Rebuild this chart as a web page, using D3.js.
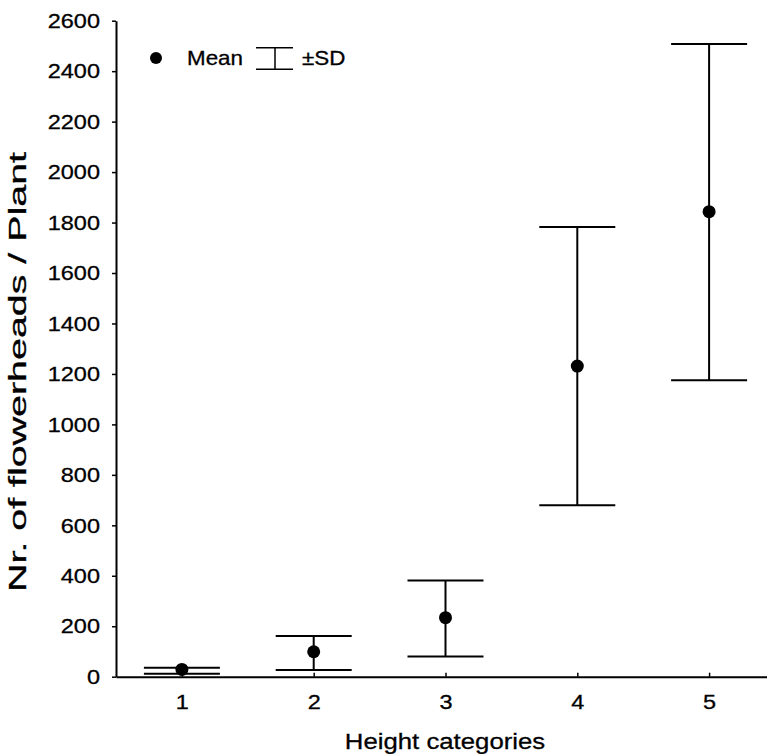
<!DOCTYPE html>
<html>
<head>
<meta charset="utf-8">
<script src="https://cdn.jsdelivr.net/npm/d3@7"></script>
<style>
  html, body { margin: 0; padding: 0; background: #fff; }
  svg text { font-family: "Liberation Sans", Arial, sans-serif; fill: #000; stroke: #000; stroke-width: 0.3px; }
</style>
</head>
<body>
<div id="chart"></div>
<script>
// values
const categories = [1, 2, 3, 4, 5];
const means = [29, 99, 234, 1231, 1843];
const upper = [35, 161, 381, 1782, 2508];
const lower = [12, 27, 80, 680, 1175];
const yTicks = [0, 200, 400, 600, 800, 1000, 1200, 1400, 1600, 1800, 2000, 2200, 2400, 2600];

const width = 767, height = 754;
const plotLeft = 116, plotTop = 20.7, plotBottom = 676.7;
const capHalf = 38;
const stretch = 1.12; // text in the picture is a bit wider than plain Arial

const svg = d3.select('#chart')
    .append('svg')
    .attr('width', width)
    .attr('height', height);

const x = d3.scaleLinear().domain([0.5, 5.5]).range([plotLeft, plotLeft + 5 * 131.8]);
const y = d3.scaleLinear().domain([0, 2600]).range([plotBottom, plotTop]);

// axes
const xAxis = svg.append('g')
    .attr('transform', `translate(0,${plotBottom})`)
    .call(d3.axisBottom(x).tickValues(categories).tickFormat(d3.format('d'))
        .tickSize(-4).tickSizeOuter(0).tickPadding(17));
const yAxis = svg.append('g')
    .attr('transform', `translate(${plotLeft},0)`)
    .call(d3.axisLeft(y).tickValues(yTicks).tickFormat(d3.format('d'))
        .tickSize(4).tickSizeOuter(0).tickPadding(12));

[xAxis, yAxis].forEach(g => {
    g.select('.domain').attr('stroke', '#000').attr('stroke-width', 2);
    g.selectAll('.tick line').attr('stroke', '#000').attr('stroke-width', 1.5);
    g.selectAll('.tick text').style('font-size', '21px').attr('fill', '#000');
});
yAxis.selectAll('.tick text')
    .attr('x', -16 / stretch)
    .attr('transform', `scale(${stretch},1)`);
xAxis.selectAll('.tick text')
    .attr('transform', `scale(${stretch},1)`);

// error bars
const rows = categories.map((c, i) => ({ c, mean: means[i], hi: upper[i], lo: lower[i] }));
const bars = svg.append('g').attr('stroke', '#000').attr('stroke-width', 2);
bars.selectAll('.stem').data(rows).enter().append('line')
    .attr('x1', d => x(d.c)).attr('x2', d => x(d.c))
    .attr('y1', d => y(d.hi)).attr('y2', d => y(d.lo));
bars.selectAll('.capHi').data(rows).enter().append('line')
    .attr('x1', d => x(d.c) - capHalf).attr('x2', d => x(d.c) + capHalf)
    .attr('y1', d => y(d.hi)).attr('y2', d => y(d.hi));
bars.selectAll('.capLo').data(rows).enter().append('line')
    .attr('x1', d => x(d.c) - capHalf).attr('x2', d => x(d.c) + capHalf)
    .attr('y1', d => y(d.lo)).attr('y2', d => y(d.lo));

svg.selectAll('.dot').data(rows).enter().append('circle')
    .attr('cx', d => x(d.c)).attr('cy', d => y(d.mean))
    .attr('r', 6.5).attr('fill', '#000');

// legend
const lg = svg.append('g');
lg.append('circle').attr('cx', 156).attr('cy', 58).attr('r', 6).attr('fill', '#000');
lg.append('text').attr('transform', `translate(187,65) scale(${stretch},1)`)
    .style('font-size', '20px').text('Mean');
lg.append('line').attr('x1', 256).attr('x2', 293).attr('y1', 47.7).attr('y2', 47.7).attr('stroke', '#000').attr('stroke-width', 1.5);
lg.append('line').attr('x1', 256).attr('x2', 293).attr('y1', 69.3).attr('y2', 69.3).attr('stroke', '#000').attr('stroke-width', 1.5);
lg.append('line').attr('x1', 275).attr('x2', 275).attr('y1', 47.7).attr('y2', 69.3).attr('stroke', '#000').attr('stroke-width', 1.5);
lg.append('text').attr('transform', `translate(302,65) scale(${stretch},1)`)
    .style('font-size', '20px').text('±SD');

// axis titles
svg.append('text')
    .attr('transform', `translate(445,749) scale(${stretch},1)`)
    .attr('text-anchor', 'middle')
    .style('font-size', '23px')
    .text('Height categories');
svg.append('text')
    .attr('transform', `translate(26,372) rotate(-90)`)
    .attr('text-anchor', 'middle')
    .attr('textLength', 440)
    .attr('lengthAdjust', 'spacingAndGlyphs')
    .style('font-size', '23px')
    .text('Nr. of flowerheads / Plant');
</script>
</body>
</html>
